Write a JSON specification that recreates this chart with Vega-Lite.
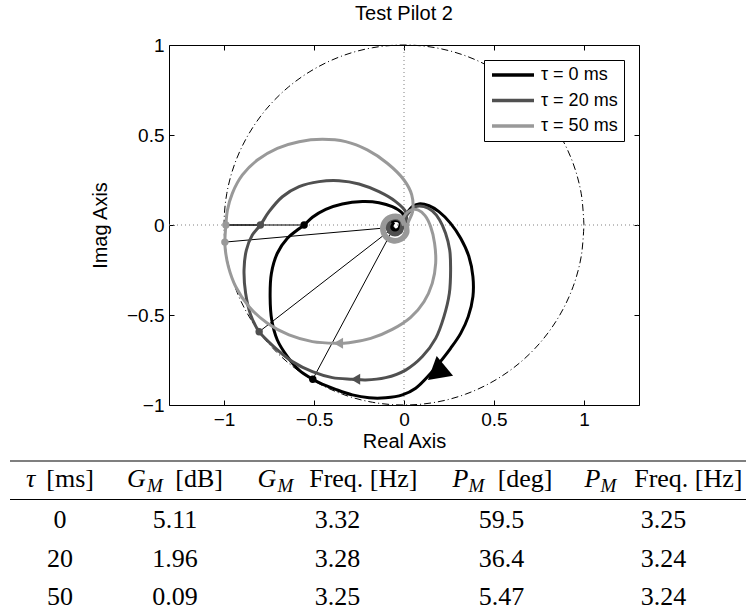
{
"$schema":"https://vega.github.io/schema/vega-lite/v6.json",
"padding":{"left":9,"top":3,"right":0,"bottom":0},
"background":"white",
"config":{
 "view":{"stroke":null},
 "font":"Liberation Sans",
 "axis":{"labelFont":"Liberation Sans","labelFontSize":19,"labelColor":"black","tickColor":"black","tickWidth":1,"titleFont":"Liberation Sans","titleFontSize":20,"titleFontWeight":"normal","titleColor":"black","grid":false,"domain":false},
 "legend":{"orient":"top-right","offset":15,"padding":6,"strokeColor":"black","fillColor":"white","symbolType":"stroke","symbolStrokeWidth":3.3,"symbolSize":1764,"clipHeight":18,"labelFont":"Liberation Sans","labelFontSize":18,"labelColor":"black","labelOffset":5,"rowPadding":7.5,"cornerRadius":0}
},
"datasets":{
 "circle":[{"i":0,"x":1,"y":0},{"i":1,"x":0.985,"y":0.174},{"i":2,"x":0.94,"y":0.342},{"i":3,"x":0.866,"y":0.5},{"i":4,"x":0.766,"y":0.643},{"i":5,"x":0.643,"y":0.766},{"i":6,"x":0.5,"y":0.866},{"i":7,"x":0.342,"y":0.94},{"i":8,"x":0.174,"y":0.985},{"i":9,"x":0,"y":1},{"i":10,"x":-0.174,"y":0.985},{"i":11,"x":-0.342,"y":0.94},{"i":12,"x":-0.5,"y":0.866},{"i":13,"x":-0.643,"y":0.766},{"i":14,"x":-0.766,"y":0.643},{"i":15,"x":-0.866,"y":0.5},{"i":16,"x":-0.94,"y":0.342},{"i":17,"x":-0.985,"y":0.174},{"i":18,"x":-1,"y":0},{"i":19,"x":-0.985,"y":-0.174},{"i":20,"x":-0.94,"y":-0.342},{"i":21,"x":-0.866,"y":-0.5},{"i":22,"x":-0.766,"y":-0.643},{"i":23,"x":-0.643,"y":-0.766},{"i":24,"x":-0.5,"y":-0.866},{"i":25,"x":-0.342,"y":-0.94},{"i":26,"x":-0.174,"y":-0.985},{"i":27,"x":0,"y":-1},{"i":28,"x":0.174,"y":-0.985},{"i":29,"x":0.342,"y":-0.94},{"i":30,"x":0.5,"y":-0.866},{"i":31,"x":0.643,"y":-0.766},{"i":32,"x":0.766,"y":-0.643},{"i":33,"x":0.866,"y":-0.5},{"i":34,"x":0.94,"y":-0.342},{"i":35,"x":0.985,"y":-0.174},{"i":36,"x":1,"y":0}],
 "cross":[{"x":-1.306,"y":0,"x2":1.306,"y2":0},{"x":0,"y":-1,"x2":0,"y2":1}],
 "segs":[{"x":-1,"y":0,"x2":-0.555,"y2":0},{"x":-1,"y":0,"x2":-0.798,"y2":0},{"x":-1,"y":0,"x2":-0.99,"y2":0},{"x":-0.507,"y":-0.857,"x2":-0.055,"y2":-0.012},{"x":-0.805,"y":-0.593,"x2":-0.055,"y2":-0.012},{"x":-0.9955,"y":-0.095,"x2":-0.055,"y2":-0.012}],
 "marks":[{"tau":"τ = 0 ms","x":-0.555,"y":0},{"tau":"τ = 0 ms","x":-0.507,"y":-0.857},{"tau":"τ = 20 ms","x":-0.798,"y":0},{"tau":"τ = 20 ms","x":-0.805,"y":-0.593},{"tau":"τ = 50 ms","x":-0.99,"y":0},{"tau":"τ = 50 ms","x":-0.9955,"y":-0.095}],
 "arrowBig":[{"tau":"τ = 0 ms","x":0.18,"y":-0.822}],
 "arrowSmall":[{"tau":"τ = 20 ms","x":-0.27,"y":-0.857},{"tau":"τ = 50 ms","x":-0.365,"y":-0.657}],
 "curves":[
{"tau":"τ = 0 ms","i":1,"x":-0.012,"y":0.018},{"tau":"τ = 0 ms","i":2,"x":0.009,"y":0.056},{"tau":"τ = 0 ms","i":3,"x":0.046,"y":0.102},{"tau":"τ = 0 ms","i":4,"x":0.083,"y":0.117},{"tau":"τ = 0 ms","i":5,"x":0.139,"y":0.107},{"tau":"τ = 0 ms","i":6,"x":0.194,"y":0.074},{"tau":"τ = 0 ms","i":7,"x":0.259,"y":0.009},{"tau":"τ = 0 ms","i":8,"x":0.315,"y":-0.074},{"tau":"τ = 0 ms","i":9,"x":0.361,"y":-0.176},{"tau":"τ = 0 ms","i":10,"x":0.383,"y":-0.287},{"tau":"τ = 0 ms","i":11,"x":0.383,"y":-0.398},{"tau":"τ = 0 ms","i":12,"x":0.357,"y":-0.509},{"tau":"τ = 0 ms","i":13,"x":0.315,"y":-0.602},{"tau":"τ = 0 ms","i":14,"x":0.259,"y":-0.685},{"tau":"τ = 0 ms","i":15,"x":0.194,"y":-0.769},{"tau":"τ = 0 ms","i":16,"x":0.145,"y":-0.828},{"tau":"τ = 0 ms","i":17,"x":0.065,"y":-0.907},{"tau":"τ = 0 ms","i":18,"x":-0.009,"y":-0.944},{"tau":"τ = 0 ms","i":19,"x":-0.102,"y":-0.96},{"tau":"τ = 0 ms","i":20,"x":-0.194,"y":-0.96},{"tau":"τ = 0 ms","i":21,"x":-0.287,"y":-0.944},{"tau":"τ = 0 ms","i":22,"x":-0.38,"y":-0.913},{"tau":"τ = 0 ms","i":23,"x":-0.472,"y":-0.876},{"tau":"τ = 0 ms","i":24,"x":-0.507,"y":-0.857},{"tau":"τ = 0 ms","i":25,"x":-0.583,"y":-0.806},{"tau":"τ = 0 ms","i":26,"x":-0.648,"y":-0.731},{"tau":"τ = 0 ms","i":27,"x":-0.704,"y":-0.639},{"tau":"τ = 0 ms","i":28,"x":-0.735,"y":-0.528},{"tau":"τ = 0 ms","i":29,"x":-0.744,"y":-0.4},{"tau":"τ = 0 ms","i":30,"x":-0.737,"y":-0.269},{"tau":"τ = 0 ms","i":31,"x":-0.704,"y":-0.157},{"tau":"τ = 0 ms","i":32,"x":-0.648,"y":-0.074},{"tau":"τ = 0 ms","i":33,"x":-0.593,"y":-0.028},{"tau":"τ = 0 ms","i":34,"x":-0.555,"y":0},{"tau":"τ = 0 ms","i":35,"x":-0.509,"y":0.043},{"tau":"τ = 0 ms","i":36,"x":-0.435,"y":0.087},{"tau":"τ = 0 ms","i":37,"x":-0.343,"y":0.117},{"tau":"τ = 0 ms","i":38,"x":-0.231,"y":0.13},{"tau":"τ = 0 ms","i":39,"x":-0.139,"y":0.124},{"tau":"τ = 0 ms","i":40,"x":-0.065,"y":0.102},{"tau":"τ = 0 ms","i":41,"x":-0.013,"y":0.069},{"tau":"τ = 0 ms","i":42,"x":0.008,"y":0.03},{"tau":"τ = 0 ms","i":43,"x":-0.015,"y":-0.005},{"tau":"τ = 0 ms","i":44,"x":-0.024,"y":-0.026},{"tau":"τ = 0 ms","i":45,"x":-0.045,"y":-0.035},{"tau":"τ = 0 ms","i":46,"x":-0.066,"y":-0.026},{"tau":"τ = 0 ms","i":47,"x":-0.075,"y":-0.005},{"tau":"τ = 0 ms","i":48,"x":-0.066,"y":0.016},{"tau":"τ = 0 ms","i":49,"x":-0.045,"y":0.025},{"tau":"τ = 0 ms","i":50,"x":-0.024,"y":0.016},{"tau":"τ = 0 ms","i":51,"x":-0.023,"y":-0.005},{"tau":"τ = 0 ms","i":52,"x":-0.034,"y":-0.024},{"tau":"τ = 0 ms","i":53,"x":-0.056,"y":-0.024},{"tau":"τ = 0 ms","i":54,"x":-0.067,"y":-0.005},{"tau":"τ = 0 ms","i":55,"x":-0.056,"y":0.014},
{"tau":"τ = 20 ms","i":1,"x":-0.004,"y":0.024},{"tau":"τ = 20 ms","i":2,"x":0.028,"y":0.069},{"tau":"τ = 20 ms","i":3,"x":0.065,"y":0.102},{"tau":"τ = 20 ms","i":4,"x":0.111,"y":0.102},{"tau":"τ = 20 ms","i":5,"x":0.157,"y":0.078},{"tau":"τ = 20 ms","i":6,"x":0.198,"y":0.028},{"tau":"τ = 20 ms","i":7,"x":0.231,"y":-0.046},{"tau":"τ = 20 ms","i":8,"x":0.254,"y":-0.139},{"tau":"τ = 20 ms","i":9,"x":0.259,"y":-0.25},{"tau":"τ = 20 ms","i":10,"x":0.252,"y":-0.38},{"tau":"τ = 20 ms","i":11,"x":0.222,"y":-0.509},{"tau":"τ = 20 ms","i":12,"x":0.176,"y":-0.63},{"tau":"τ = 20 ms","i":13,"x":0.102,"y":-0.731},{"tau":"τ = 20 ms","i":14,"x":0.009,"y":-0.806},{"tau":"τ = 20 ms","i":15,"x":-0.102,"y":-0.848},{"tau":"τ = 20 ms","i":16,"x":-0.213,"y":-0.861},{"tau":"τ = 20 ms","i":17,"x":-0.287,"y":-0.857},{"tau":"τ = 20 ms","i":18,"x":-0.398,"y":-0.848},{"tau":"τ = 20 ms","i":19,"x":-0.509,"y":-0.815},{"tau":"τ = 20 ms","i":20,"x":-0.62,"y":-0.759},{"tau":"τ = 20 ms","i":21,"x":-0.713,"y":-0.685},{"tau":"τ = 20 ms","i":22,"x":-0.805,"y":-0.593},{"tau":"τ = 20 ms","i":23,"x":-0.852,"y":-0.5},{"tau":"τ = 20 ms","i":24,"x":-0.88,"y":-0.38},{"tau":"τ = 20 ms","i":25,"x":-0.889,"y":-0.25},{"tau":"τ = 20 ms","i":26,"x":-0.876,"y":-0.139},{"tau":"τ = 20 ms","i":27,"x":-0.843,"y":-0.056},{"tau":"τ = 20 ms","i":28,"x":-0.798,"y":0},{"tau":"τ = 20 ms","i":29,"x":-0.75,"y":0.074},{"tau":"τ = 20 ms","i":30,"x":-0.676,"y":0.157},{"tau":"τ = 20 ms","i":31,"x":-0.583,"y":0.213},{"tau":"τ = 20 ms","i":32,"x":-0.472,"y":0.241},{"tau":"τ = 20 ms","i":33,"x":-0.361,"y":0.246},{"tau":"τ = 20 ms","i":34,"x":-0.25,"y":0.228},{"tau":"τ = 20 ms","i":35,"x":-0.139,"y":0.185},{"tau":"τ = 20 ms","i":36,"x":-0.046,"y":0.13},{"tau":"τ = 20 ms","i":37,"x":0.009,"y":0.074},{"tau":"τ = 20 ms","i":38,"x":0.012,"y":0.025},{"tau":"τ = 20 ms","i":39,"x":-0.005,"y":-0.01},{"tau":"τ = 20 ms","i":40,"x":-0.018,"y":-0.042},{"tau":"τ = 20 ms","i":41,"x":-0.05,"y":-0.055},{"tau":"τ = 20 ms","i":42,"x":-0.082,"y":-0.042},{"tau":"τ = 20 ms","i":43,"x":-0.095,"y":-0.01},{"tau":"τ = 20 ms","i":44,"x":-0.082,"y":0.022},{"tau":"τ = 20 ms","i":45,"x":-0.05,"y":0.035},{"tau":"τ = 20 ms","i":46,"x":-0.018,"y":0.022},{"tau":"τ = 20 ms","i":47,"x":-0.015,"y":-0.01},{"tau":"τ = 20 ms","i":48,"x":-0.025,"y":-0.035},{"tau":"τ = 20 ms","i":49,"x":-0.05,"y":-0.045},{"tau":"τ = 20 ms","i":50,"x":-0.075,"y":-0.035},{"tau":"τ = 20 ms","i":51,"x":-0.085,"y":-0.01},{"tau":"τ = 20 ms","i":52,"x":-0.075,"y":0.015},
{"tau":"τ = 50 ms","i":1,"x":-0.01,"y":0.022},{"tau":"τ = 50 ms","i":2,"x":0.006,"y":0.056},{"tau":"τ = 50 ms","i":3,"x":0.037,"y":0.083},{"tau":"τ = 50 ms","i":4,"x":0.08,"y":0.083},{"tau":"τ = 50 ms","i":5,"x":0.117,"y":0.052},{"tau":"τ = 50 ms","i":6,"x":0.148,"y":-0.009},{"tau":"τ = 50 ms","i":7,"x":0.17,"y":-0.102},{"tau":"τ = 50 ms","i":8,"x":0.176,"y":-0.213},{"tau":"τ = 50 ms","i":9,"x":0.157,"y":-0.324},{"tau":"τ = 50 ms","i":10,"x":0.111,"y":-0.426},{"tau":"τ = 50 ms","i":11,"x":0.037,"y":-0.513},{"tau":"τ = 50 ms","i":12,"x":-0.065,"y":-0.58},{"tau":"τ = 50 ms","i":13,"x":-0.185,"y":-0.63},{"tau":"τ = 50 ms","i":14,"x":-0.306,"y":-0.654},{"tau":"τ = 50 ms","i":15,"x":-0.38,"y":-0.657},{"tau":"τ = 50 ms","i":16,"x":-0.509,"y":-0.648},{"tau":"τ = 50 ms","i":17,"x":-0.639,"y":-0.611},{"tau":"τ = 50 ms","i":18,"x":-0.759,"y":-0.546},{"tau":"τ = 50 ms","i":19,"x":-0.861,"y":-0.454},{"tau":"τ = 50 ms","i":20,"x":-0.935,"y":-0.343},{"tau":"τ = 50 ms","i":21,"x":-0.976,"y":-0.231},{"tau":"τ = 50 ms","i":22,"x":-0.993,"y":-0.139},{"tau":"τ = 50 ms","i":23,"x":-0.9955,"y":-0.095},{"tau":"τ = 50 ms","i":24,"x":-0.99,"y":0},{"tau":"τ = 50 ms","i":25,"x":-0.981,"y":0.083},{"tau":"τ = 50 ms","i":26,"x":-0.954,"y":0.176},{"tau":"τ = 50 ms","i":27,"x":-0.898,"y":0.278},{"tau":"τ = 50 ms","i":28,"x":-0.815,"y":0.361},{"tau":"τ = 50 ms","i":29,"x":-0.704,"y":0.426},{"tau":"τ = 50 ms","i":30,"x":-0.583,"y":0.463},{"tau":"τ = 50 ms","i":31,"x":-0.454,"y":0.476},{"tau":"τ = 50 ms","i":32,"x":-0.324,"y":0.463},{"tau":"τ = 50 ms","i":33,"x":-0.204,"y":0.417},{"tau":"τ = 50 ms","i":34,"x":-0.093,"y":0.343},{"tau":"τ = 50 ms","i":35,"x":0,"y":0.25},{"tau":"τ = 50 ms","i":36,"x":0.043,"y":0.167},{"tau":"τ = 50 ms","i":37,"x":0.048,"y":0.075},{"tau":"τ = 50 ms","i":38,"x":0.021,"y":0.006},{"tau":"τ = 50 ms","i":39,"x":0.021,"y":-0.046},{"tau":"τ = 50 ms","i":40,"x":-0.013,"y":-0.085},{"tau":"τ = 50 ms","i":41,"x":-0.063,"y":-0.094},{"tau":"τ = 50 ms","i":42,"x":-0.108,"y":-0.068},{"tau":"τ = 50 ms","i":43,"x":-0.125,"y":-0.02},{"tau":"τ = 50 ms","i":44,"x":-0.108,"y":0.028},{"tau":"τ = 50 ms","i":45,"x":-0.063,"y":0.054},{"tau":"τ = 50 ms","i":46,"x":-0.013,"y":0.045},{"tau":"τ = 50 ms","i":47,"x":0.006,"y":0.001},{"tau":"τ = 50 ms","i":48,"x":0.006,"y":-0.041},{"tau":"τ = 50 ms","i":49,"x":-0.02,"y":-0.072},{"tau":"τ = 50 ms","i":50,"x":-0.06,"y":-0.079},{"tau":"τ = 50 ms","i":51,"x":-0.096,"y":-0.059},{"tau":"τ = 50 ms","i":52,"x":-0.11,"y":-0.02},{"tau":"τ = 50 ms","i":53,"x":-0.096,"y":0.019},{"tau":"τ = 50 ms","i":54,"x":-0.06,"y":0.039},{"tau":"τ = 50 ms","i":55,"x":-0.02,"y":0.032},{"tau":"τ = 50 ms","i":56,"x":-0.003,"y":-0.003}
 ],
 "table":[{"row":"r1","tau":"0","gm":"5.11","gmf":"3.32","pm":"59.5","pmf":"3.25"},{"row":"r2","tau":"20","gm":"1.96","gmf":"3.28","pm":"36.4","pmf":"3.24"},{"row":"r3","tau":"50","gm":"0.09","gmf":"3.25","pm":"5.47","pmf":"3.24"}]
},
"spacing":8,
"resolve":{"scale":{"color":"independent"},"legend":{"color":"independent"}},
"vconcat":[
 {"spacing":0,
  "resolve":{"scale":{"color":"independent"},"legend":{"color":"independent"}},
  "hconcat":[
  {"width":79,"height":10,"data":{"values":[{"t":""}]},"mark":{"type":"text"},"encoding":{"text":{"field":"t"}}},
  {"width":470,"height":360,
   "view":{"stroke":"black","strokeWidth":1},
   "title":{"text":"Test Pilot 2","font":"Liberation Sans","fontSize":20,"fontWeight":"normal","color":"black","offset":12,"anchor":"middle"},
   "resolve":{"axis":{"x":"independent","y":"independent"}},
   "layer":[
    {"data":{"name":"cross"},"mark":{"type":"rule","color":"#808080","strokeWidth":1,"strokeDash":[1,3]},
     "encoding":{"x":{"field":"x","type":"quantitative","scale":{"domain":[-1.306,1.306],"nice":false,"zero":false},"axis":null},"x2":{"field":"x2"},"y":{"field":"y","type":"quantitative","scale":{"domain":[-1,1],"nice":false,"zero":false},"axis":null},"y2":{"field":"y2"}}},
    {"data":{"name":"circle"},"mark":{"type":"line","color":"black","strokeWidth":1,"strokeDash":[7,3,1,3],"interpolate":"catmull-rom"},
     "encoding":{"x":{"field":"x","type":"quantitative","scale":{"domain":[-1.306,1.306],"nice":false,"zero":false},"axis":{"orient":"bottom","values":[-1,-0.5,0,0.5,1],"format":"~g","title":"Real Axis","tickSize":-5,"labelPadding":10,"titlePadding":2}},
      "y":{"field":"y","type":"quantitative","scale":{"domain":[-1,1],"nice":false,"zero":false},"axis":{"orient":"left","values":[-1,-0.5,0,0.5,1],"format":"~g","title":"Imag Axis","tickSize":-5,"labelPadding":10,"titlePadding":16}},
      "order":{"field":"i"}}},
    {"data":{"name":"segs"},"mark":{"type":"rule","color":"black","strokeWidth":1},
     "encoding":{"x":{"field":"x","type":"quantitative","scale":{"domain":[-1.306,1.306],"nice":false,"zero":false},"axis":null},"x2":{"field":"x2"},"y":{"field":"y","type":"quantitative","scale":{"domain":[-1,1],"nice":false,"zero":false},"axis":null},"y2":{"field":"y2"}}},
    {"data":{"name":"curves"},"mark":{"type":"line","strokeWidth":3,"interpolate":"catmull-rom"},
     "encoding":{"x":{"field":"x","type":"quantitative","scale":{"domain":[-1.306,1.306],"nice":false,"zero":false},"axis":{"orient":"top","values":[-1,-0.5,0,0.5,1],"labels":false,"title":null,"tickSize":-5}},
      "y":{"field":"y","type":"quantitative","scale":{"domain":[-1,1],"nice":false,"zero":false},"axis":{"orient":"right","values":[-1,-0.5,0,0.5,1],"labels":false,"title":null,"tickSize":-5}},
      "order":{"field":"i"},
      "color":{"field":"tau","type":"nominal","scale":{"domain":["τ = 0 ms","τ = 20 ms","τ = 50 ms"],"range":["#000000","#505050","#999999"]},"legend":{"title":null,"orient":"top-right","offset":15}}}},
    {"data":{"name":"marks"},"mark":{"type":"point","filled":true,"opacity":1,"size":55,"shape":"circle"},
     "encoding":{"x":{"field":"x","type":"quantitative","scale":{"domain":[-1.306,1.306],"nice":false,"zero":false},"axis":null},"y":{"field":"y","type":"quantitative","scale":{"domain":[-1,1],"nice":false,"zero":false},"axis":null},
      "color":{"field":"tau","type":"nominal","legend":null}}},
    {"data":{"name":"arrowSmall"},"mark":{"type":"point","filled":true,"opacity":1,"size":120,"shape":"triangle-left"},
     "encoding":{"x":{"field":"x","type":"quantitative","scale":{"domain":[-1.306,1.306],"nice":false,"zero":false},"axis":null},"y":{"field":"y","type":"quantitative","scale":{"domain":[-1,1],"nice":false,"zero":false},"axis":null},
      "color":{"field":"tau","type":"nominal","legend":null}}},
    {"data":{"name":"arrowBig"},"mark":{"type":"point","filled":true,"opacity":1,"size":650,"shape":"triangle-left","angle":-40},
     "encoding":{"x":{"field":"x","type":"quantitative","scale":{"domain":[-1.306,1.306],"nice":false,"zero":false},"axis":null},"y":{"field":"y","type":"quantitative","scale":{"domain":[-1,1],"nice":false,"zero":false},"axis":null},
      "color":{"field":"tau","type":"nominal","legend":null}}}
   ]}
 ]},
 {"spacing":0,"bounds":"flush","hconcat":[
  {"width":100,"height":154,"layer":[
   {"data":{"values":[{"row":"h"},{"row":"r1"}]},"mark":{"type":"rule","color":"black","strokeWidth":1.2},"encoding":{"y":{"field":"row","type":"ordinal","scale":{"type":"band","domain":["h","r1","r2","r3"],"paddingInner":0,"paddingOuter":0},"axis":null,"bandPosition":0}}},
   {"data":{"name":"table"},"mark":{"type":"text","font":"Liberation Serif","fontSize":26,"baseline":"alphabetic","color":"black"},"encoding":{"y":{"field":"row","type":"ordinal","scale":{"type":"band","domain":["h","r1","r2","r3"],"paddingInner":0,"paddingOuter":0},"axis":null,"bandPosition":0.75},"text":{"field":"tau"}}},
   {"data":{"values":[{"row":"h","t":"τ"}]},"mark":{"type":"text","font":"Liberation Serif","fontSize":26,"fontStyle":"italic","baseline":"alphabetic","align":"left","dx":-34,"color":"black"},"encoding":{"y":{"field":"row","type":"ordinal","scale":{"type":"band","domain":["h","r1","r2","r3"],"paddingInner":0,"paddingOuter":0},"axis":null,"bandPosition":0.675},"text":{"field":"t"}}},
   {"data":{"values":[{"row":"h","t":"[ms]"}]},"mark":{"type":"text","font":"Liberation Serif","fontSize":26,"baseline":"alphabetic","align":"right","dx":34,"color":"black"},"encoding":{"y":{"field":"row","type":"ordinal","scale":{"type":"band","domain":["h","r1","r2","r3"],"paddingInner":0,"paddingOuter":0},"axis":null,"bandPosition":0.675},"text":{"field":"t"}}}
  ]},
  {"width":130,"height":154,"layer":[
   {"data":{"values":[{"row":"h"},{"row":"r1"}]},"mark":{"type":"rule","color":"black","strokeWidth":1.2},"encoding":{"y":{"field":"row","type":"ordinal","scale":{"type":"band","domain":["h","r1","r2","r3"],"paddingInner":0,"paddingOuter":0},"axis":null,"bandPosition":0}}},
   {"data":{"name":"table"},"mark":{"type":"text","font":"Liberation Serif","fontSize":26,"baseline":"alphabetic","color":"black"},"encoding":{"y":{"field":"row","type":"ordinal","scale":{"type":"band","domain":["h","r1","r2","r3"],"paddingInner":0,"paddingOuter":0},"axis":null,"bandPosition":0.75},"text":{"field":"gm"}}},
   {"data":{"values":[{"row":"h","t":"G"}]},"mark":{"type":"text","font":"Liberation Serif","fontSize":26,"fontStyle":"italic","baseline":"alphabetic","align":"left","dx":-48,"color":"black"},"encoding":{"y":{"field":"row","type":"ordinal","scale":{"type":"band","domain":["h","r1","r2","r3"],"paddingInner":0,"paddingOuter":0},"axis":null,"bandPosition":0.675},"text":{"field":"t"}}},
   {"data":{"values":[{"row":"h","t":"M"}]},"mark":{"type":"text","font":"Liberation Serif","fontSize":19,"fontStyle":"italic","baseline":"alphabetic","align":"left","dx":-28,"dy":5,"color":"black"},"encoding":{"y":{"field":"row","type":"ordinal","scale":{"type":"band","domain":["h","r1","r2","r3"],"paddingInner":0,"paddingOuter":0},"axis":null,"bandPosition":0.675},"text":{"field":"t"}}},
   {"data":{"values":[{"row":"h","t":"[dB]"}]},"mark":{"type":"text","font":"Liberation Serif","fontSize":26,"baseline":"alphabetic","align":"right","dx":48,"color":"black"},"encoding":{"y":{"field":"row","type":"ordinal","scale":{"type":"band","domain":["h","r1","r2","r3"],"paddingInner":0,"paddingOuter":0},"axis":null,"bandPosition":0.675},"text":{"field":"t"}}}
  ]},
  {"width":195,"height":154,"layer":[
   {"data":{"values":[{"row":"h"},{"row":"r1"}]},"mark":{"type":"rule","color":"black","strokeWidth":1.2},"encoding":{"y":{"field":"row","type":"ordinal","scale":{"type":"band","domain":["h","r1","r2","r3"],"paddingInner":0,"paddingOuter":0},"axis":null,"bandPosition":0}}},
   {"data":{"name":"table"},"mark":{"type":"text","font":"Liberation Serif","fontSize":26,"baseline":"alphabetic","color":"black"},"encoding":{"y":{"field":"row","type":"ordinal","scale":{"type":"band","domain":["h","r1","r2","r3"],"paddingInner":0,"paddingOuter":0},"axis":null,"bandPosition":0.75},"text":{"field":"gmf"}}},
   {"data":{"values":[{"row":"h","t":"G"}]},"mark":{"type":"text","font":"Liberation Serif","fontSize":26,"fontStyle":"italic","baseline":"alphabetic","align":"left","dx":-80,"color":"black"},"encoding":{"y":{"field":"row","type":"ordinal","scale":{"type":"band","domain":["h","r1","r2","r3"],"paddingInner":0,"paddingOuter":0},"axis":null,"bandPosition":0.675},"text":{"field":"t"}}},
   {"data":{"values":[{"row":"h","t":"M"}]},"mark":{"type":"text","font":"Liberation Serif","fontSize":19,"fontStyle":"italic","baseline":"alphabetic","align":"left","dx":-60,"dy":5,"color":"black"},"encoding":{"y":{"field":"row","type":"ordinal","scale":{"type":"band","domain":["h","r1","r2","r3"],"paddingInner":0,"paddingOuter":0},"axis":null,"bandPosition":0.675},"text":{"field":"t"}}},
   {"data":{"values":[{"row":"h","t":"Freq. [Hz]"}]},"mark":{"type":"text","font":"Liberation Serif","fontSize":26,"baseline":"alphabetic","align":"right","dx":80,"color":"black"},"encoding":{"y":{"field":"row","type":"ordinal","scale":{"type":"band","domain":["h","r1","r2","r3"],"paddingInner":0,"paddingOuter":0},"axis":null,"bandPosition":0.675},"text":{"field":"t"}}}
  ]},
  {"width":133,"height":154,"layer":[
   {"data":{"values":[{"row":"h"},{"row":"r1"}]},"mark":{"type":"rule","color":"black","strokeWidth":1.2},"encoding":{"y":{"field":"row","type":"ordinal","scale":{"type":"band","domain":["h","r1","r2","r3"],"paddingInner":0,"paddingOuter":0},"axis":null,"bandPosition":0}}},
   {"data":{"name":"table"},"mark":{"type":"text","font":"Liberation Serif","fontSize":26,"baseline":"alphabetic","color":"black"},"encoding":{"y":{"field":"row","type":"ordinal","scale":{"type":"band","domain":["h","r1","r2","r3"],"paddingInner":0,"paddingOuter":0},"axis":null,"bandPosition":0.75},"text":{"field":"pm"}}},
   {"data":{"values":[{"row":"h","t":"P"}]},"mark":{"type":"text","font":"Liberation Serif","fontSize":26,"fontStyle":"italic","baseline":"alphabetic","align":"left","dx":-49,"color":"black"},"encoding":{"y":{"field":"row","type":"ordinal","scale":{"type":"band","domain":["h","r1","r2","r3"],"paddingInner":0,"paddingOuter":0},"axis":null,"bandPosition":0.675},"text":{"field":"t"}}},
   {"data":{"values":[{"row":"h","t":"M"}]},"mark":{"type":"text","font":"Liberation Serif","fontSize":19,"fontStyle":"italic","baseline":"alphabetic","align":"left","dx":-33,"dy":5,"color":"black"},"encoding":{"y":{"field":"row","type":"ordinal","scale":{"type":"band","domain":["h","r1","r2","r3"],"paddingInner":0,"paddingOuter":0},"axis":null,"bandPosition":0.675},"text":{"field":"t"}}},
   {"data":{"values":[{"row":"h","t":"[deg]"}]},"mark":{"type":"text","font":"Liberation Serif","fontSize":26,"baseline":"alphabetic","align":"right","dx":51,"color":"black"},"encoding":{"y":{"field":"row","type":"ordinal","scale":{"type":"band","domain":["h","r1","r2","r3"],"paddingInner":0,"paddingOuter":0},"axis":null,"bandPosition":0.675},"text":{"field":"t"}}}
  ]},
  {"width":179,"height":154,"layer":[
   {"data":{"values":[{"row":"h"},{"row":"r1"}]},"mark":{"type":"rule","color":"black","strokeWidth":1.2},"encoding":{"y":{"field":"row","type":"ordinal","scale":{"type":"band","domain":["h","r1","r2","r3"],"paddingInner":0,"paddingOuter":0},"axis":null,"bandPosition":0}}},
   {"data":{"name":"table"},"mark":{"type":"text","font":"Liberation Serif","fontSize":26,"baseline":"alphabetic","dx":6,"color":"black"},"encoding":{"y":{"field":"row","type":"ordinal","scale":{"type":"band","domain":["h","r1","r2","r3"],"paddingInner":0,"paddingOuter":0},"axis":null,"bandPosition":0.75},"text":{"field":"pmf"}}},
   {"data":{"values":[{"row":"h","t":"P"}]},"mark":{"type":"text","font":"Liberation Serif","fontSize":26,"fontStyle":"italic","baseline":"alphabetic","align":"left","dx":-73,"color":"black"},"encoding":{"y":{"field":"row","type":"ordinal","scale":{"type":"band","domain":["h","r1","r2","r3"],"paddingInner":0,"paddingOuter":0},"axis":null,"bandPosition":0.675},"text":{"field":"t"}}},
   {"data":{"values":[{"row":"h","t":"M"}]},"mark":{"type":"text","font":"Liberation Serif","fontSize":19,"fontStyle":"italic","baseline":"alphabetic","align":"left","dx":-57,"dy":5,"color":"black"},"encoding":{"y":{"field":"row","type":"ordinal","scale":{"type":"band","domain":["h","r1","r2","r3"],"paddingInner":0,"paddingOuter":0},"axis":null,"bandPosition":0.675},"text":{"field":"t"}}},
   {"data":{"values":[{"row":"h","t":"Freq. [Hz]"}]},"mark":{"type":"text","font":"Liberation Serif","fontSize":26,"baseline":"alphabetic","align":"right","dx":85,"color":"black"},"encoding":{"y":{"field":"row","type":"ordinal","scale":{"type":"band","domain":["h","r1","r2","r3"],"paddingInner":0,"paddingOuter":0},"axis":null,"bandPosition":0.675},"text":{"field":"t"}}}
  ]}
 ]}
]
}
